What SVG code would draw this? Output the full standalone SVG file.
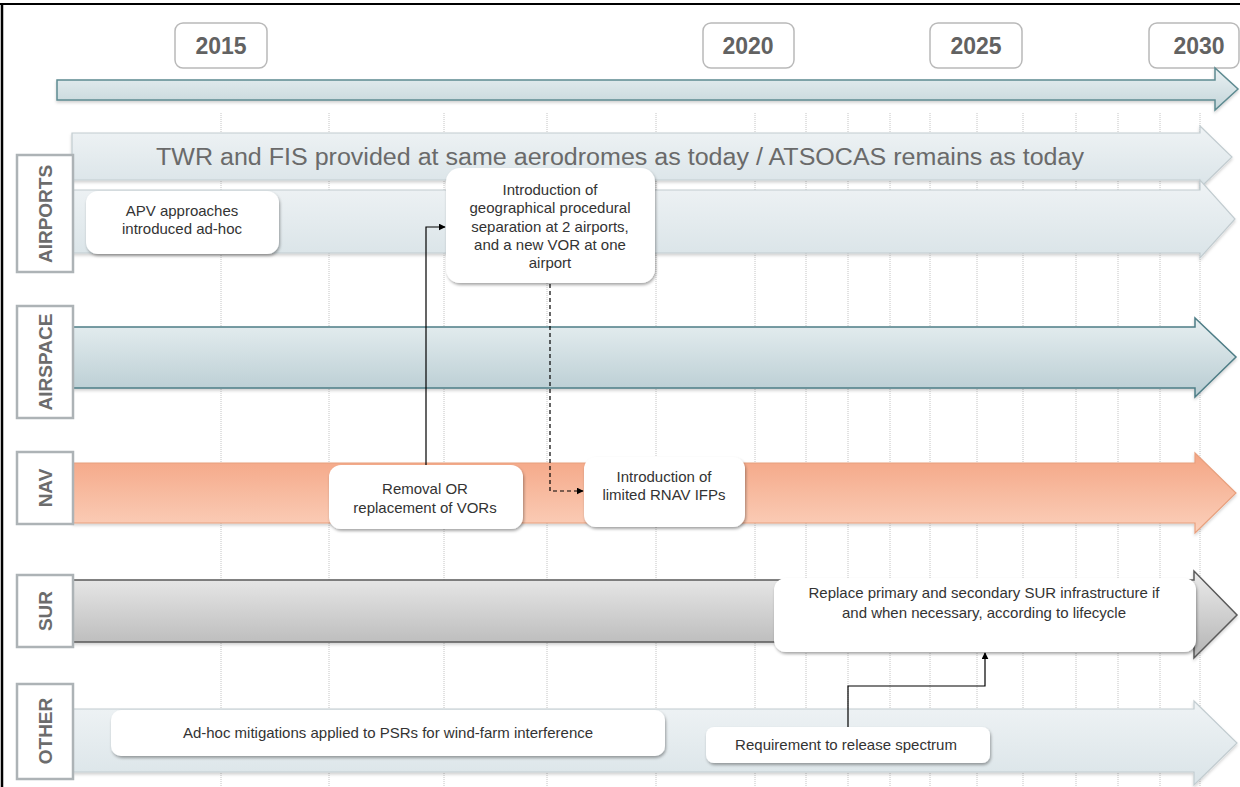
<svg xmlns="http://www.w3.org/2000/svg" width="1240" height="787" viewBox="0 0 1240 787">
  <defs>
    <linearGradient id="gTimeline" x1="0" y1="0" x2="0" y2="1">
      <stop offset="0" stop-color="#eaf1f3"/>
      <stop offset="1" stop-color="#c3d5d9"/>
    </linearGradient>
    <linearGradient id="gPale" x1="0" y1="0" x2="0" y2="1">
      <stop offset="0" stop-color="#eff3f5"/>
      <stop offset="1" stop-color="#dae4e8"/>
    </linearGradient>
    <linearGradient id="gAirspace" x1="0" y1="0" x2="0" y2="1">
      <stop offset="0" stop-color="#e7eff1"/>
      <stop offset="1" stop-color="#b8ccd2"/>
    </linearGradient>
    <linearGradient id="gNav" x1="0" y1="0" x2="0" y2="1">
      <stop offset="0" stop-color="#f4a584"/>
      <stop offset="1" stop-color="#fbd0bb"/>
    </linearGradient>
    <linearGradient id="gSur" x1="0" y1="0" x2="0" y2="1">
      <stop offset="0" stop-color="#ebebeb"/>
      <stop offset="1" stop-color="#b4b4b4"/>
    </linearGradient>
    <filter id="shadow" x="-10%" y="-10%" width="120%" height="130%">
      <feDropShadow dx="1" dy="2" stdDeviation="1.6" flood-color="#000" flood-opacity="0.35"/>
    </filter>
    <filter id="softShadow" x="-5%" y="-20%" width="110%" height="150%">
      <feDropShadow dx="0" dy="2" stdDeviation="1.5" flood-color="#000" flood-opacity="0.18"/>
    </filter>
    <marker id="arrowSolid" viewBox="0 0 10 10" refX="9" refY="5" markerWidth="7" markerHeight="7" orient="auto" markerUnits="userSpaceOnUse">
      <path d="M0,0 L10,5 L0,10 z" fill="#000"/>
    </marker>
  </defs>
  <style>
    .year rect { fill: #ffffff; stroke: #b9b9b9; stroke-width: 1.5; }
    .year text { font-family: "Liberation Sans", Arial, sans-serif; font-weight: bold; font-size: 23px; fill: #626262; text-anchor: middle; }
    .grid line { stroke: #c4c4c4; stroke-width: 1; stroke-dasharray: 1 1; }
    .lane rect { fill: #ffffff; stroke: #adb3b6; stroke-width: 2.5; }
    .lane text { font-family: "Liberation Sans", Arial, sans-serif; font-weight: bold; font-size: 19px; fill: #6c6c6c; text-anchor: middle; }
    .callout rect { fill: #ffffff; filter: url(#shadow); }
    .callout text { font-family: "Liberation Sans", Arial, sans-serif; font-size: 15px; fill: #333333; text-anchor: middle; }
    .conn { fill: none; stroke: #000; stroke-width: 1.2; }
    .conn.dash { stroke-dasharray: 4 3; }
  </style>

  <!-- page frame -->
  <rect x="0" y="0" width="1240" height="787" fill="#ffffff"/>
  <line x1="0" y1="4" x2="1240" y2="4" stroke="#000" stroke-width="2"/>
  <line x1="2" y1="4" x2="2" y2="787" stroke="#000" stroke-width="2.5"/>

  <!-- year markers -->
  <g id="year-2015" class="year"><rect x="175" y="23" width="92" height="45" rx="8"/><text x="221" y="54">2015</text></g>
  <g id="year-2020" class="year"><rect x="703" y="23" width="91" height="45" rx="8"/><text x="748" y="54">2020</text></g>
  <g id="year-2025" class="year"><rect x="930" y="23" width="92" height="45" rx="8"/><text x="976" y="54">2025</text></g>
  <g id="year-2030" class="year"><rect x="1149" y="23" width="90" height="45" rx="8"/><text x="1199" y="54">2030</text></g>

  <!-- timeline arrow -->
  <path id="timeline" d="M57,80 H1215 V68 L1238,89 L1215,110 V100 H57 Z" fill="url(#gTimeline)" stroke="#5e8b91" stroke-width="1.5" filter="url(#softShadow)"/>

  <!-- year grid -->
  <g id="grid" class="grid">
    <line x1="221" y1="113" x2="221" y2="787"/>
    <line x1="329" y1="113" x2="329" y2="787"/>
    <line x1="444" y1="113" x2="444" y2="787"/>
    <line x1="547" y1="113" x2="547" y2="787"/>
    <line x1="656" y1="113" x2="656" y2="787"/>
    <line x1="755" y1="113" x2="755" y2="787"/>
    <line x1="806" y1="113" x2="806" y2="787"/>
    <line x1="848" y1="113" x2="848" y2="787"/>
    <line x1="890" y1="113" x2="890" y2="787"/>
    <line x1="930" y1="113" x2="930" y2="787"/>
    <line x1="977" y1="113" x2="977" y2="787"/>
    <line x1="1023" y1="113" x2="1023" y2="787"/>
    <line x1="1076" y1="113" x2="1076" y2="787"/>
    <line x1="1118" y1="113" x2="1118" y2="787"/>
    <line x1="1160" y1="113" x2="1160" y2="787"/>
    <line x1="1200" y1="113" x2="1200" y2="787"/>
  </g>

  <!-- lane arrows -->
  <g id="lane-arrows">
    <path id="arrow-twr" d="M72,133 H1200 V126 L1232,157 L1200,188 V180 H72 Z" fill="url(#gPale)" stroke="#c2ccd0" stroke-width="1.2" filter="url(#softShadow)"/>
    <path id="arrow-airports" d="M72,190 H1200 V180 L1235,219 L1200,258 V253 H72 Z" fill="url(#gPale)" stroke="#c2ccd0" stroke-width="1.2" filter="url(#softShadow)"/>
    <path id="arrow-airspace" d="M73,327 H1195 V318 L1236,357 L1195,397 V388 H73 Z" fill="url(#gAirspace)" stroke="#4e7d86" stroke-width="1.5" filter="url(#softShadow)"/>
    <path id="arrow-nav" d="M73,463 H1195 V453 L1236,493 L1195,533 V523 H73 Z" fill="url(#gNav)" stroke="#e8a07e" stroke-width="1.2" filter="url(#softShadow)"/>
    <path id="arrow-sur" d="M73,580 H1194 V571 L1237,615 L1194,658 V642 H73 Z" fill="url(#gSur)" stroke="#5a5a5a" stroke-width="1.5" filter="url(#softShadow)"/>
    <path id="arrow-other" d="M73,709 H1194 V701 L1237,743 L1194,785 V772 H73 Z" fill="url(#gPale)" stroke="#c2ccd0" stroke-width="1.2" filter="url(#softShadow)"/>
  </g>

  <text id="twr-text" x="620" y="165" font-family="Liberation Sans, Arial, sans-serif" font-size="23" fill="#6a6a6a" text-anchor="middle" textLength="928" lengthAdjust="spacingAndGlyphs">TWR and FIS provided at same aerodromes as today / ATSOCAS remains as today</text>

  <!-- lane labels -->
  <g id="label-airports" class="lane"><rect x="17" y="155" width="56" height="117"/><text transform="translate(52,214) rotate(-90)">AIRPORTS</text></g>
  <g id="label-airspace" class="lane"><rect x="17" y="306" width="56" height="112"/><text transform="translate(52,362) rotate(-90)">AIRSPACE</text></g>
  <g id="label-nav" class="lane"><rect x="17" y="452" width="56" height="72"/><text transform="translate(52,488) rotate(-90)">NAV</text></g>
  <g id="label-sur" class="lane"><rect x="17" y="575" width="56" height="72"/><text transform="translate(52,611) rotate(-90)">SUR</text></g>
  <g id="label-other" class="lane"><rect x="17" y="684" width="56" height="95"/><text transform="translate(52,731) rotate(-90)">OTHER</text></g>

  <!-- connectors -->
  <g id="connectors">
    <path class="conn" d="M426,465 V227 H445" marker-end="url(#arrowSolid)"/>
    <path class="conn dash" d="M550,284 V491 H583" marker-end="url(#arrowSolid)"/>
    <path class="conn" d="M848,727 V686 H985 V653" marker-end="url(#arrowSolid)"/>
  </g>

  <!-- callouts -->
  <g id="note-apv" class="callout">
    <rect x="86" y="191" width="193" height="63" rx="12"/>
    <text x="182" y="216">APV approaches</text>
    <text x="182" y="234">introduced ad-hoc</text>
  </g>
  <g id="note-geo" class="callout">
    <rect x="446" y="168" width="209" height="115" rx="14"/>
    <text x="550" y="195">Introduction of</text>
    <text x="550" y="213">geographical procedural</text>
    <text x="550" y="232">separation at 2 airports,</text>
    <text x="550" y="250">and a new VOR at one</text>
    <text x="550" y="268">airport</text>
  </g>
  <g id="note-vor" class="callout">
    <rect x="329" y="465" width="194" height="64" rx="12"/>
    <text x="425" y="494">Removal OR</text>
    <text x="425" y="513">replacement of VORs</text>
  </g>
  <g id="note-rnav" class="callout">
    <rect x="584" y="457" width="161" height="70" rx="12"/>
    <text x="664" y="482">Introduction of</text>
    <text x="664" y="500">limited RNAV IFPs</text>
  </g>
  <g id="note-sur" class="callout">
    <rect x="774" y="578" width="422" height="74" rx="12"/>
    <text x="984" y="598">Replace primary and secondary SUR infrastructure if</text>
    <text x="984" y="618">and when necessary, according to lifecycle</text>
  </g>
  <g id="note-psr" class="callout">
    <rect x="111" y="710" width="554" height="46" rx="10"/>
    <text x="388" y="738">Ad-hoc mitigations applied to PSRs for wind-farm interference</text>
  </g>
  <g id="note-spectrum" class="callout">
    <rect x="706" y="727" width="284" height="36" rx="8"/>
    <text x="846" y="750">Requirement to release spectrum</text>
  </g>
</svg>
